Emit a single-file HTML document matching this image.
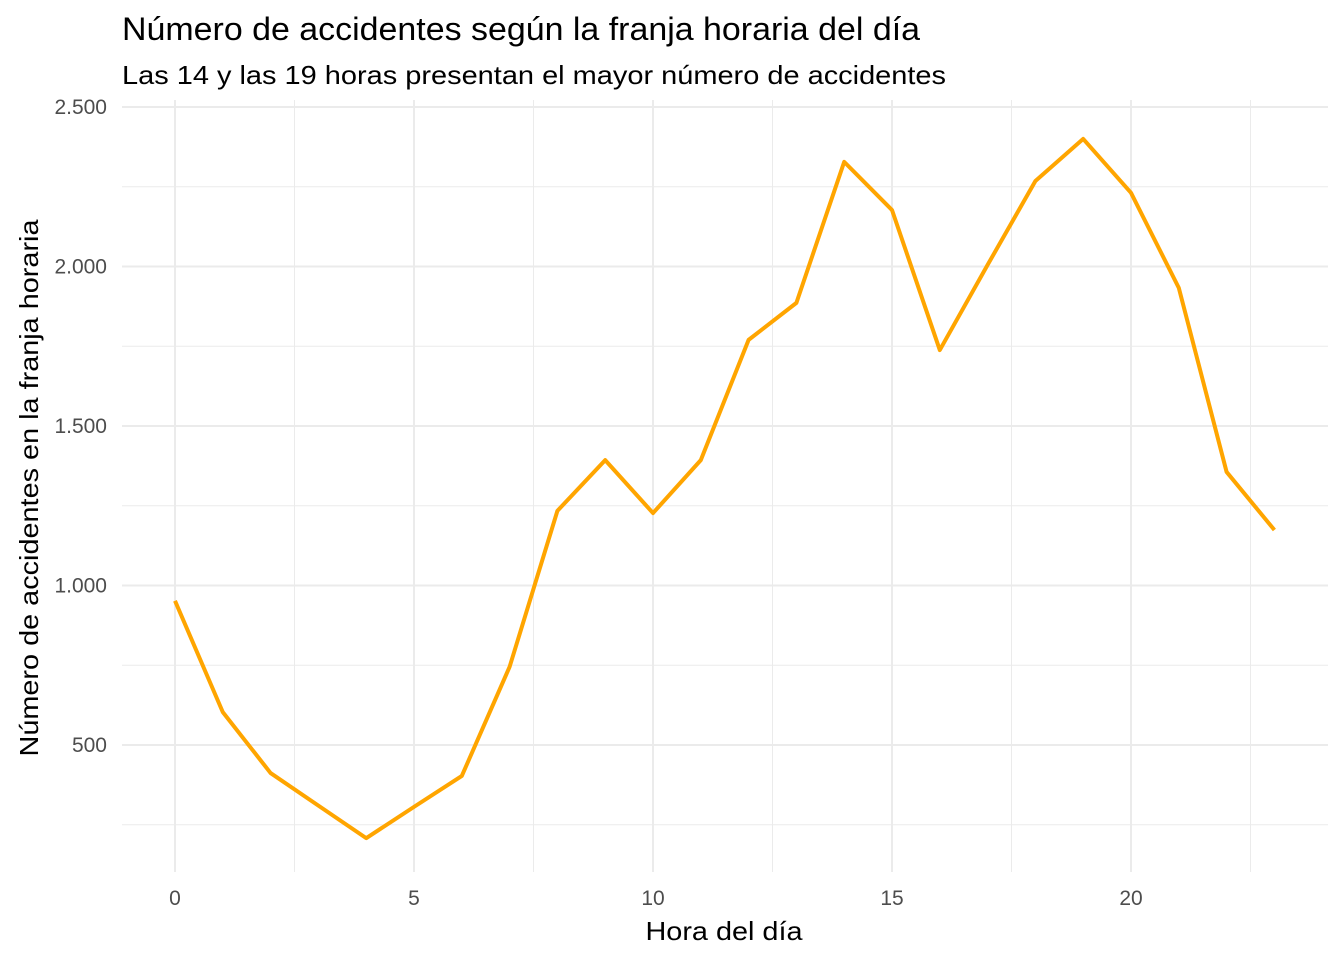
<!DOCTYPE html>
<html><head><meta charset="utf-8"><style>
html,body{margin:0;padding:0;background:#fff;}
svg{display:block;font-family:"Liberation Sans",Arial,sans-serif;}
</style></head><body>
<svg id="chart" width="1344" height="960">
<text x="122" y="40" font-size="32" textLength="798" lengthAdjust="spacingAndGlyphs" fill="#000">Número de accidentes según la franja horaria del día</text>
<text x="122" y="84" font-size="26" textLength="824" lengthAdjust="spacingAndGlyphs" fill="#000">Las 14 y las 19 horas presentan el mayor número de accidentes</text>
<g id="grid"></g>
<g id="yticks"></g>
<g id="xticks"></g>
<path id="line" fill="none" stroke="#FFA500" stroke-width="4" stroke-linejoin="round"/>
<text x="724" y="940" font-size="26" textLength="157" lengthAdjust="spacingAndGlyphs" text-anchor="middle" fill="#000">Hora del día</text>
<text transform="translate(38,488) rotate(-90)" font-size="26" textLength="537" lengthAdjust="spacingAndGlyphs" text-anchor="middle" fill="#000">Número de accidentes en la franja horaria</text>
</svg>
<script>
const hours = [0,1,2,3,4,5,6,7,8,9,10,11,12,13,14,15,16,17,18,19,20,21,22,23];
const accidents = [952,603,412,310,208,306,403,745,1234,1393,1227,1393,1770,1886,2328,2177,1738,2005,2268,2400,2231,1933,1356,1174];
const yTicks = [500,1000,1500,2000,2500];
const yTickLabels = ["500","1.000","1.500","2.000","2.500"];
const xTicks = [0,5,10,15,20];
const xTickLabels = ["0","5","10","15","20"];
const yMinor = [250,750,1250,1750,2250];
const xMinor = [2.5,7.5,12.5,17.5,22.5];

const NS="http://www.w3.org/2000/svg";
const sx = v => 175 + v*47.8;
const sy = v => 904.5 - v*0.319;
const L=122, R=1328, T=100, B=872;
const grid=document.getElementById('grid');
function ln(x1,y1,x2,y2,w,name){
  const l=document.createElementNS(NS,'line');
  l.setAttribute('x1',x1);l.setAttribute('y1',y1);l.setAttribute('x2',x2);l.setAttribute('y2',y2);
  l.setAttribute('stroke','#ebebeb');l.setAttribute('stroke-width',w);
  
  
  grid.appendChild(l);
}
yMinor.forEach(v=>ln(L,sy(v),R,sy(v),1,'y-minor-gridline'));
xMinor.forEach(v=>ln(sx(v),T,sx(v),B,1,'x-minor-gridline'));
yTicks.forEach(v=>ln(L,sy(v),R,sy(v),2,'y-major-gridline'));
xTicks.forEach(v=>ln(sx(v),T,sx(v),B,2,'x-major-gridline'));
const yg=document.getElementById('yticks');
yTicks.forEach((v,i)=>{
  const t=document.createElementNS(NS,'text');
  t.setAttribute('x',107);t.setAttribute('y',sy(v)+7);t.setAttribute('text-anchor','end');
  t.setAttribute('font-size','21');t.setAttribute('fill','#4d4d4d');t.textContent=yTickLabels[i];
  
  
  yg.appendChild(t);
});
const xg=document.getElementById('xticks');
xTicks.forEach((v,i)=>{
  const t=document.createElementNS(NS,'text');
  t.setAttribute('x',sx(v));t.setAttribute('y',905);t.setAttribute('text-anchor','middle');
  t.setAttribute('font-size','21');t.setAttribute('fill','#4d4d4d');t.textContent=xTickLabels[i];
  
  
  xg.appendChild(t);
});
document.getElementById('line').setAttribute('d',hours.map((h,i)=>(i?'L':'M')+sx(h)+','+sy(accidents[i])).join(' '));
</script>
</body></html>
